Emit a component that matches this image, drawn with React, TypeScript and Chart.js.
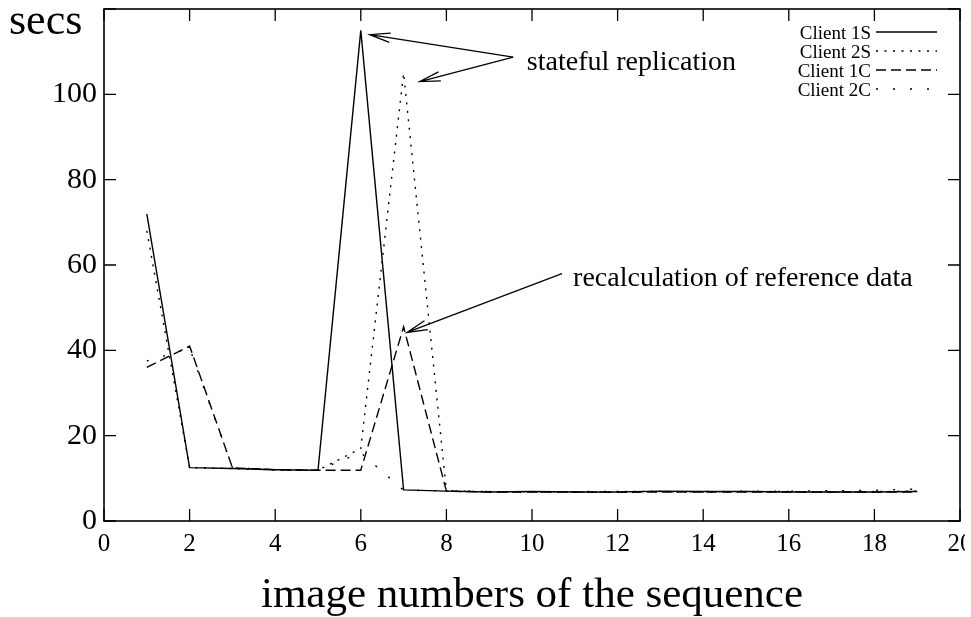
import React, { useEffect, useRef } from 'react';
import { Chart, registerables } from 'chart.js';

Chart.register(...registerables);

// ---- data ----
const imageNumbers = [1, 2, 3, 4, 5, 6, 7, 8, 9, 10, 11, 12, 13, 14, 15, 16, 17, 18, 19];
const client1S = [72, 12.5, 12.3, 12.0, 11.9, 115, 7.3, 7.0, 6.8, 6.9, 6.8, 6.8, 7.0, 6.9, 6.9, 6.8, 6.8, 6.8, 6.9];
const client2S = [68, 12.5, 12.3, 12.0, 11.9, 17, 105, 7.0, 6.9, 6.8, 6.8, 6.9, 6.9, 6.8, 6.9, 6.9, 6.8, 6.9, 7.0];
const client1C = [36, 41, 12.5, 12.0, 11.9, 11.9, 45.5, 7.0, 6.8, 6.8, 6.8, 6.7, 6.8, 6.8, 6.8, 6.8, 6.8, 6.8, 6.8];
const client2C = [37.5, 40.5, 12.5, 12.0, 11.9, 16, 7.2, 7.1, 6.9, 6.8, 6.9, 6.9, 6.8, 6.9, 7.0, 7.0, 7.1, 7.2, 7.5];

const seriesLabels = ['Client 1S', 'Client 2S', 'Client 1C', 'Client 2C'];
const xTickValues = [0, 2, 4, 6, 8, 10, 12, 14, 16, 18, 20];
const yTickValues = [0, 20, 40, 60, 80, 100, 120];
const yTickLabelsShown = [0, 20, 40, 60, 80, 100];

const xTitle = 'image numbers of the sequence';
const yTitle = 'secs';

// annotation texts (anchored in data coordinates)
const noteTexts = ['stateful replication', 'recalculation of reference data'];
const noteX = [9.88, 10.96];
const noteY = [105.6, 55.0];
// arrows: from -> to, data coordinates
const arrowFromX = [9.56, 9.56, 10.7];
const arrowFromY = [108.7, 108.7, 58];
const arrowToX = [6.21, 7.38, 7.08];
const arrowToY = [114, 103, 44.2];

const SERIF = '"Liberation Serif", "Times New Roman", serif';

const dashes: number[][] = [[], [2, 6.5], [10, 5], [2, 15]];

const extrasPlugin = {
  id: 'extras',
  afterDraw(chart: any) {
    const { ctx, chartArea } = chart;
    const xs = chart.scales.x;
    const ys = chart.scales.y;
    const { left, right, top, bottom } = chartArea;
    ctx.save();
    // frame
    ctx.strokeStyle = '#000';
    ctx.lineWidth = 1.6;
    ctx.setLineDash([]);
    ctx.strokeRect(left, top, right - left, bottom - top);
    // inward ticks
    ctx.lineWidth = 1.3;
    const tl = 12;
    ctx.beginPath();
    xTickValues.forEach((v) => {
      const px = xs.getPixelForValue(v);
      ctx.moveTo(px, bottom);
      ctx.lineTo(px, bottom - tl);
      ctx.moveTo(px, top);
      ctx.lineTo(px, top + tl);
    });
    yTickValues.forEach((v) => {
      const py = ys.getPixelForValue(v);
      ctx.moveTo(left, py);
      ctx.lineTo(left + tl, py);
      ctx.moveTo(right, py);
      ctx.lineTo(right - tl, py);
    });
    ctx.stroke();

    // y title
    ctx.fillStyle = '#000';
    ctx.font = `44px ${SERIF}`;
    ctx.textAlign = 'left';
    ctx.textBaseline = 'alphabetic';
    ctx.fillText(yTitle, 9, 34);

    // legend
    ctx.font = `19px ${SERIF}`;
    chart.data.datasets.forEach((ds: any, i: number) => {
      const base = 39 + i * 19;
      ctx.textAlign = 'right';
      ctx.fillStyle = '#000';
      ctx.fillText(ds.label, 871, base);
      ctx.beginPath();
      ctx.setLineDash(ds.borderDash || []);
      ctx.lineWidth = ds.borderWidth;
      ctx.moveTo(876, base - 7);
      ctx.lineTo(937, base - 7);
      ctx.stroke();
    });
    ctx.setLineDash([]);

    // annotation texts
    ctx.font = `28px ${SERIF}`;
    ctx.textAlign = 'left';
    noteTexts.forEach((t, i) => {
      ctx.fillText(t, xs.getPixelForValue(noteX[i]), ys.getPixelForValue(noteY[i]));
    });

    // arrows
    ctx.lineWidth = 1.3;
    arrowFromX.forEach((fx, i) => {
      const x1 = xs.getPixelForValue(fx);
      const y1 = ys.getPixelForValue(arrowFromY[i]);
      const x2 = xs.getPixelForValue(arrowToX[i]);
      const y2 = ys.getPixelForValue(arrowToY[i]);
      const ang = Math.atan2(y1 - y2, x1 - x2);
      const hl = 21;
      const ha = (13 * Math.PI) / 180;
      ctx.beginPath();
      ctx.moveTo(x1, y1);
      ctx.lineTo(x2, y2);
      ctx.moveTo(x2 + hl * Math.cos(ang - ha), y2 + hl * Math.sin(ang - ha));
      ctx.lineTo(x2, y2);
      ctx.lineTo(x2 + hl * Math.cos(ang + ha), y2 + hl * Math.sin(ang + ha));
      ctx.stroke();
    });
    ctx.restore();
  },
};

export default function App() {
  const ref = useRef<HTMLCanvasElement | null>(null);
  useEffect(() => {
    if (!ref.current) return;
    const series = [client1S, client2S, client1C, client2C];
    const chart = new Chart(ref.current, {
      type: 'line',
      data: {
        datasets: series.map((s, i) => ({
          label: seriesLabels[i],
          data: imageNumbers.map((x, j) => ({ x, y: s[j] })),
          borderColor: '#000',
          backgroundColor: '#000',
          borderWidth: 1.4,
          borderDash: dashes[i],
          pointRadius: 0,
          tension: 0,
          fill: false,
        })),
      },
      options: {
        animation: false,
        responsive: false,
        devicePixelRatio: 1,
        layout: { padding: { left: 0, right: 11, top: 9, bottom: 0 } },
        plugins: { legend: { display: false }, tooltip: { enabled: false } },
        scales: {
          x: {
            type: 'linear',
            min: 0,
            max: 20,
            afterBuildTicks: (scale: any) => {
              scale.ticks = xTickValues.map((v) => ({ value: v }));
            },
            afterFit: (scale: any) => {
              scale.height = 96;
              scale.paddingLeft = 0;
              scale.paddingRight = 0;
            },
            grid: { display: false, drawTicks: false },
            border: { display: false },
            ticks: {
              color: '#000',
              font: { family: SERIF, size: 25 },
              padding: 8,
              maxRotation: 0,
              autoSkip: false,
            },
            title: {
              display: true,
              text: xTitle,
              color: '#000',
              font: { family: SERIF, size: 43, lineHeight: 1.0 },
              padding: { top: 0, bottom: 0 },
            },
          },
          y: {
            type: 'linear',
            min: 0,
            max: 120,
            afterBuildTicks: (scale: any) => {
              scale.ticks = yTickValues.map((v) => ({ value: v }));
            },
            afterFit: (scale: any) => {
              scale.width = 104;
              scale.paddingTop = 0;
              scale.paddingBottom = 0;
            },
            grid: { display: false, drawTicks: false },
            border: { display: false },
            ticks: {
              color: '#000',
              font: { family: SERIF, size: 30 },
              padding: 7,
              autoSkip: false,
              callback: (v: any) => (yTickLabelsShown.includes(Number(v)) ? String(v) : ''),
            },
          },
        },
      },
      plugins: [extrasPlugin],
    });
    return () => chart.destroy();
  }, []);
  return (
    <div style={{ position: 'absolute', left: 0, top: 0, width: 965, height: 617, overflow: 'hidden', background: '#fff' }}>
      <canvas ref={ref} width={971} height={617} style={{ display: 'block', width: 971, height: 617 }} />
    </div>
  );
}
